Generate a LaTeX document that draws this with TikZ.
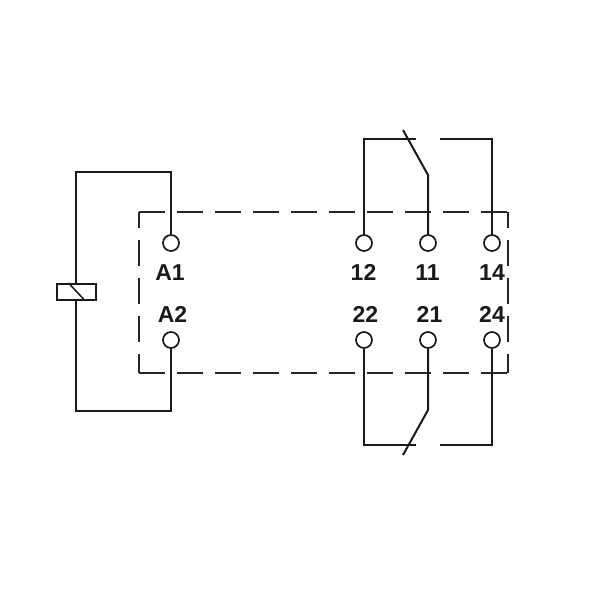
\documentclass[tikz,border=0pt]{standalone}
\usepackage{fontspec}
\setmainfont{Liberation Sans}
\tikzset{
    wire/.style = {draw=black!90, line width=2pt, line join=miter},
    housing/.style = {draw=black!85, line width=1.7pt, dash pattern=on 26pt off 12pt},
    terminal/.style = {circle, draw=black!90, fill=white, line width=1.7pt, minimum size=16pt, inner sep=0pt},
    pin-label/.style = {anchor=base, text=black!90, font=\fontsize{23}{23}\selectfont\bfseries, inner sep=0pt},
    coil-box/.style = {rectangle, draw=black!90, fill=white, line width=2pt, minimum width=39pt, minimum height=16pt, inner sep=0pt},
}

\begin{document}
\begin{tikzpicture}[x=1pt, y=-1pt]
\useasboundingbox (0,0) rectangle (600,600);
\coordinate (box-nw) at (139,212);
\coordinate (box-ne) at (508,212);
\coordinate (box-se) at (508,373);
\coordinate (box-sw) at (139,373);
\draw[housing] (box-nw) -- (box-ne);
\draw[housing] (box-sw) -- (box-se);
\draw[housing, dash phase=10pt] (box-nw) -- (box-sw);
\draw[housing, dash phase=10pt] (box-ne) -- (box-se);

\node[terminal] (a1) at (171,243) {};
\node[terminal] (a2) at (171,340) {};
\node[terminal] (t12) at (364,243) {};
\node[terminal] (t11) at (428,243) {};
\node[terminal] (t14) at (492,243) {};
\node[terminal] (t22) at (364,340) {};
\node[terminal] (t21) at (428,340) {};
\node[terminal] (t24) at (492,340) {};

\node[pin-label] at (170,280) {A1};
\node[pin-label] at (172.5,322.5) {A2};
\node[pin-label] at (363.5,280) {12};
\node[pin-label] at (427.5,280) {11};
\node[pin-label] at (492,280) {14};
\node[pin-label] at (365.5,322.5) {22};
\node[pin-label] at (429.5,322.5) {21};
\node[pin-label] at (492,322.5) {24};

% coil
\node[coil-box] (coil) at (76,292) {};
\draw[wire, line width=1.5pt] (coil.north west) ++(13,0) -- ++(15,16);
\draw[wire] (a1) |- (76,172) -- (coil);
\draw[wire] (a2) |- (76,411) -- (coil);

% upper contact
\coordinate (top-nc) at (416,139);
\coordinate (top-no) at (440,139);
\coordinate (top-knee) at (428,175);
\coordinate (top-tip) at (403,130);
\draw[wire] (t12) |- (top-nc);
\draw[wire] (t14) |- (top-no);
\draw[wire] (t11) -- (top-knee) -- (top-tip);

% lower contact
\coordinate (low-nc) at (416,445);
\coordinate (low-no) at (440,445);
\coordinate (low-knee) at (428,410);
\coordinate (low-tip) at (403,455);
\draw[wire] (t22) |- (low-nc);
\draw[wire] (t24) |- (low-no);
\draw[wire] (t21) -- (low-knee) -- (low-tip);
\end{tikzpicture}
\end{document}
